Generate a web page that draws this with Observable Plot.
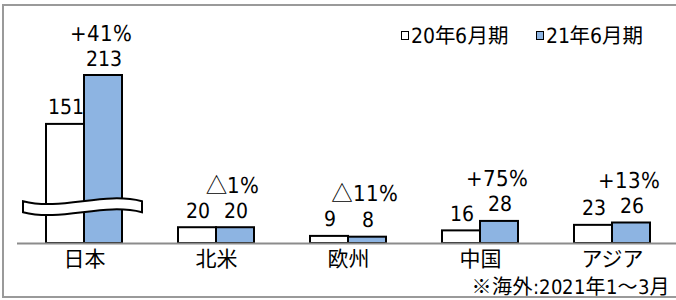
<!DOCTYPE html>
<html>
<head>
<meta charset="utf-8">
<script src="https://cdn.jsdelivr.net/npm/d3@7"></script>
<script src="https://cdn.jsdelivr.net/npm/@observablehq/plot@0.6"></script>
<style>
  @font-face {
    font-family: "AsciiNarrow";
    src: local("DejaVu Sans Condensed"), local("DejaVuSansCondensed");
    unicode-range: U+0020-007E;
  }
  html, body { margin: 0; padding: 0; background: #fff; }
  #wrap { position: relative; width: 676px; height: 300px; overflow: hidden; background: #fff;
          font-family: "AsciiNarrow", "Noto Sans CJK JP", sans-serif; color: #000; }
  #frame { position: absolute; left: 2px; top: 4px; width: 700px; height: 294px;
           border: 2px solid #9a9a9a; box-sizing: border-box; }
  #chart { position: absolute; left: 0; top: 0; }
  #legend { position: absolute; left: 401px; top: 23px; font-size: 20.5px; line-height: 20px; white-space: nowrap; }
  #legend .item { display: inline-flex; align-items: center; margin-right: 27px; }
  #legend .sw { display: inline-block; width: 6px; height: 7px; border: 1.5px solid #000; margin-right: 2px; }
  #note { position: absolute; right: 6px; top: 277px; font-size: 20px; line-height: 20px; white-space: nowrap; letter-spacing: 0.5px; }
</style>
</head>
<body>
<div id="wrap">
  <div id="frame"></div>
  <div id="chart"></div>
  <div id="legend"></div>
  <div id="note"></div>
</div>
<script>
// ---- data ----
const regions = ["日本", "北米", "欧州", "中国", "アジア"];
const seriesNames = ["20年6月期", "21年6月期"];
const fy20 = [151, 20, 9, 16, 23];
const fy21 = [213, 20, 8, 28, 26];
const growth = ["+41%", "△1%", "△11%", "+75%", "+13%"];
const note = "※海外:2021年1～3月";
const colors = ["#ffffff", "#8db4e2"];

// ---- tables built from the arrays ----
const rows20 = regions.map((r, i) => ({region: r, value: fy20[i]}));
const rows21 = regions.map((r, i) => ({region: r, value: fy21[i]}));
const growthRows = regions.map((r, i) => ({region: r, top: Math.max(fy20[i], fy21[i]), label: growth[i]}));
const breakRegion = regions[0];
const breakLevel = 46; // value level where the axis-break symbol sits

// axis-break decoration drawn with the library's scales
function breakMark(index, scales) {
  const bw = scales.x.bandwidth ? scales.x.bandwidth() : 76;
  const cx = scales.x(breakRegion) + bw / 2;
  const yc = scales.y(breakLevel);
  const x0 = cx - 61, x1 = cx + 58, w = x1 - x0;
  const yT = yc - 5.5, h = 11;
  const p = d3.path();
  p.moveTo(x0, yT);
  p.bezierCurveTo(x0 + w * 0.33, yT + 10, x0 + w * 0.67, yT - 10, x1, yT);
  p.lineTo(x1, yT + h);
  p.bezierCurveTo(x0 + w * 0.67, yT + h - 10, x0 + w * 0.33, yT + h + 10, x0, yT + h);
  p.closePath();
  return d3.create("svg:path")
    .attr("d", p.toString())
    .attr("fill", "#fff")
    .attr("stroke", "#000")
    .attr("stroke-width", 2)
    .node();
}

const FONT = '"AsciiNarrow", "Noto Sans CJK JP", sans-serif';

const chart = Plot.plot({
  width: 676,
  height: 300,
  marginTop: 75,
  marginBottom: 57,
  marginLeft: 17,
  marginRight: 0,
  style: {fontFamily: FONT, fontSize: "21px", background: "transparent", overflow: "visible", color: "#000"},
  x: {domain: regions, range: [17, 678], paddingInner: 0.425, paddingOuter: 0.2125, label: null},
  y: {domain: [0, 213], axis: null},
  marks: [
    Plot.barY(rows20, {x: "region", y: "value", fill: colors[0], stroke: "#000", strokeWidth: 2, insetRight: 38}),
    Plot.barY(rows21, {x: "region", y: "value", fill: colors[1], stroke: "#000", strokeWidth: 2, insetLeft: 38}),
    breakMark,
    Plot.ruleY([0], {stroke: "#8c8c8c", strokeWidth: 2}),
    Plot.axisX({tickSize: 0, tickPadding: 8, label: null, fontSize: 21}),
    Plot.text(rows20, {x: "region", y: "value", text: d => String(d.value), dx: -19, dy: -10, lineAnchor: "bottom", fontSize: 21}),
    Plot.text(rows21, {x: "region", y: "value", text: d => String(d.value), dx: 19, dy: -10, lineAnchor: "bottom", fontSize: 21}),
    Plot.text(growthRows, {x: "region", y: "top", text: "label", dx: 16, dy: -35, lineAnchor: "bottom", fontSize: 21.5})
  ]
});
document.getElementById("chart").appendChild(chart);

// legend
const legend = document.getElementById("legend");
seriesNames.forEach((name, i) => {
  const item = document.createElement("span");
  item.className = "item";
  const sw = document.createElement("span");
  sw.className = "sw";
  sw.style.background = colors[i];
  item.appendChild(sw);
  item.appendChild(document.createTextNode(name));
  legend.appendChild(item);
});
document.getElementById("note").textContent = note;
</script>
</body>
</html>
